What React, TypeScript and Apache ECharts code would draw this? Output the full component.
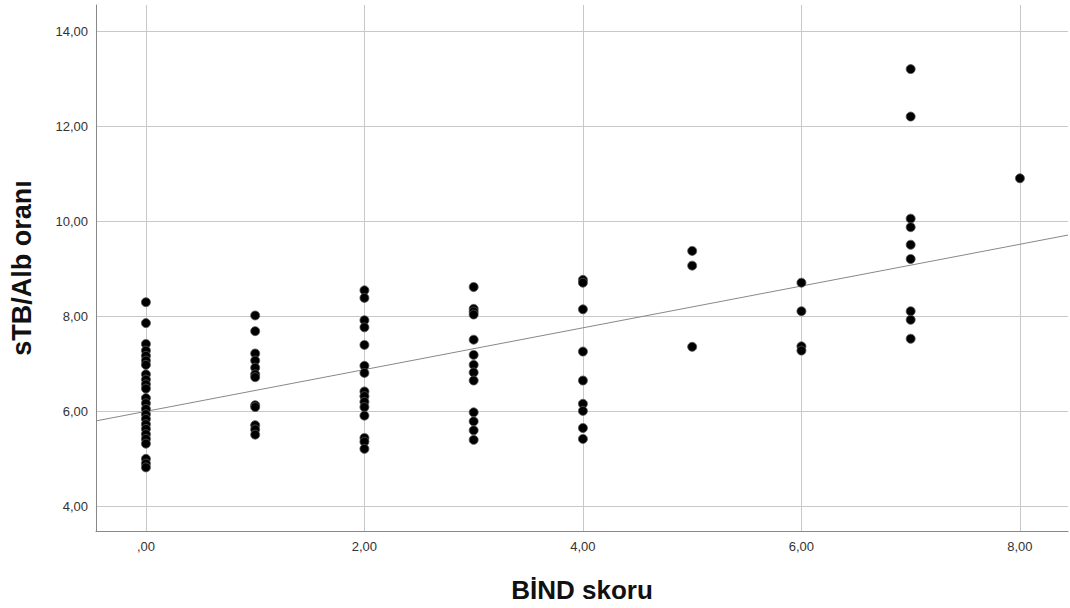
import React, { useEffect, useRef } from "react";
import * as echarts from "echarts";

// BİND skoru (x) groups and sTB/Alb oranı (y) values
const x0 = [8.30, 7.86, 7.42, 7.28, 7.17, 7.07, 6.98, 6.78, 6.67, 6.57, 6.48, 6.28, 6.17, 6.05, 5.94, 5.84, 5.73, 5.63, 5.52, 5.42, 5.32, 5.00, 4.90, 4.82];
const x1 = [8.02, 7.69, 7.22, 7.07, 6.92, 6.78, 6.72, 6.13, 6.09, 5.71, 5.62, 5.51];
const x2 = [8.55, 8.39, 7.92, 7.77, 7.40, 6.96, 6.81, 6.42, 6.32, 6.20, 6.09, 5.91, 5.44, 5.36, 5.21];
const x3 = [8.62, 8.16, 8.10, 8.04, 7.51, 7.19, 6.98, 6.82, 6.65, 5.98, 5.79, 5.60, 5.40];
const x4 = [8.77, 8.71, 8.15, 7.26, 6.65, 6.16, 6.01, 5.65, 5.42];
const x5 = [9.38, 9.07, 7.36];
const x6 = [8.71, 8.11, 7.37, 7.28];
const x7 = [13.21, 12.21, 10.06, 9.88, 9.51, 9.21, 8.11, 7.93, 7.53];
const x8 = [10.91];

const groups: number[][] = [x0, x1, x2, x3, x4, x5, x6, x7, x8];

// fit line: y = intercept + slope * x
const fitIntercept = 6.0;
const fitSlope = 0.44;

const xTicks = [0, 2, 4, 6, 8];
const xTickLabels = [",00", "2,00", "4,00", "6,00", "8,00"];
const yTicks = [4, 6, 8, 10, 12, 14];
const yTickLabels = ["4,00", "6,00", "8,00", "10,00", "12,00", "14,00"];

const xMin = -0.457;
const xMax = 8.44;
const yMin = 3.48;
const yMax = 14.56;

export default function App() {
  const ref = useRef<HTMLDivElement>(null);
  useEffect(() => {
    if (!ref.current) return;
    const chart = echarts.init(ref.current, null, { renderer: "svg" });
    const points: number[][] = [];
    groups.forEach((vals, gx) => vals.forEach((v) => points.push([gx, v])));
    const fitLine = [
      [xMin, fitIntercept + fitSlope * xMin],
      [xMax, fitIntercept + fitSlope * xMax],
    ];
    const fmtX = (v: number) => {
      const i = xTicks.indexOf(Math.round(v * 1000) / 1000);
      return i >= 0 ? xTickLabels[i] : "";
    };
    const fmtY = (v: number) => {
      const i = yTicks.indexOf(Math.round(v * 1000) / 1000);
      return i >= 0 ? yTickLabels[i] : "";
    };
    chart.setOption({
      animation: false,
      backgroundColor: "#ffffff",
      grid: { left: 95, right: 2, top: 5, bottom: 73, containLabel: false },
      xAxis: {
        type: "value",
        min: xMin,
        max: xMax,
        name: "BİND skoru",
        nameLocation: "middle",
        nameGap: 46,
        nameTextStyle: { fontFamily: "Liberation Sans", fontWeight: "bold", fontSize: 26, color: "#111" },
        axisLine: { show: true, onZero: false, lineStyle: { color: "#888", width: 1 } },
        axisTick: { show: false, customValues: xTicks },
        axisLabel: { customValues: xTicks, formatter: fmtX, fontFamily: "Liberation Sans", fontSize: 13, color: "#333", margin: 9 },
        splitLine: { show: true, lineStyle: { color: "#c8c8c8", width: 1 } },
      },
      yAxis: {
        type: "value",
        min: yMin,
        max: yMax,
        name: "sTB/Alb oranı",
        nameLocation: "middle",
        nameGap: 61,
        nameTextStyle: { fontFamily: "Liberation Sans", fontWeight: "bold", fontSize: 27, color: "#111" },
        axisLine: { show: true, onZero: false, lineStyle: { color: "#888", width: 1 } },
        axisTick: { show: false, customValues: yTicks },
        axisLabel: { customValues: yTicks, formatter: fmtY, fontFamily: "Liberation Sans", fontSize: 13, color: "#333", margin: 8 },
        splitLine: { show: true, lineStyle: { color: "#c8c8c8", width: 1 } },
      },
      series: [
        {
          type: "line",
          data: fitLine,
          symbol: "none",
          lineStyle: { color: "#888888", width: 1 },
          silent: true,
          z: 2,
        },
        {
          type: "scatter",
          data: points,
          symbol: "circle",
          symbolSize: 9,
          itemStyle: { color: "#000000", borderColor: "#555555", borderWidth: 0.8, opacity: 1 },
          z: 3,
        },
      ],
    });
    return () => chart.dispose();
  }, []);
  return <div ref={ref} style={{ position: "absolute", left: 0, top: 0, width: 1070, height: 608 }} />;
}
